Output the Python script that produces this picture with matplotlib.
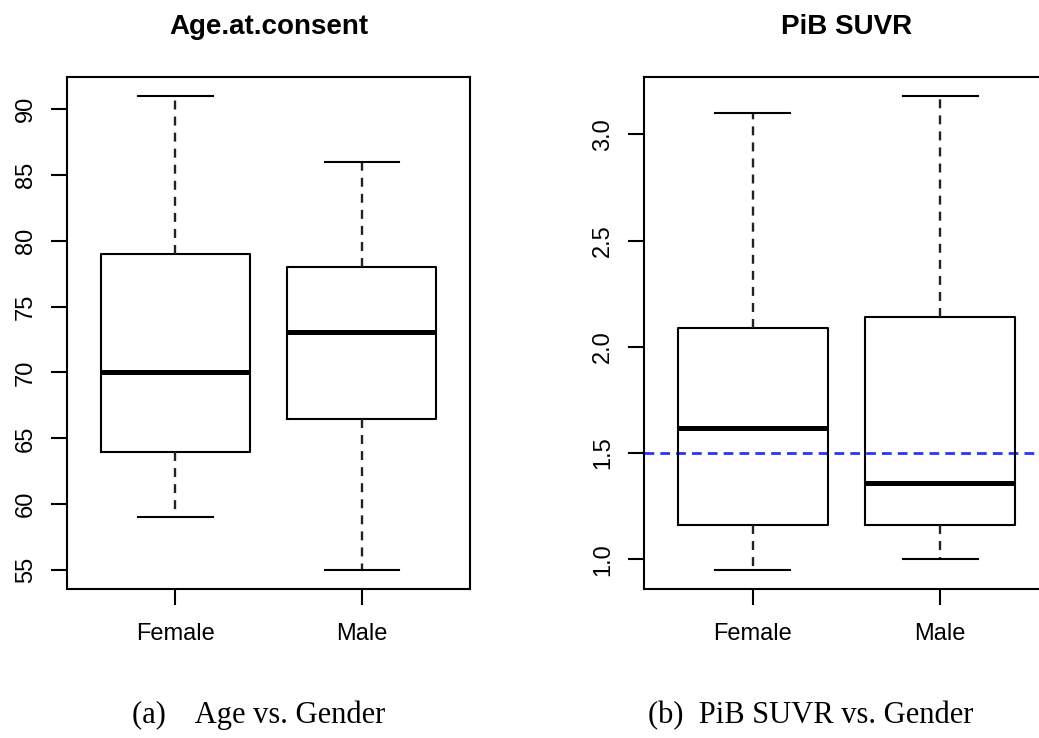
import matplotlib
matplotlib.use("Agg")
import matplotlib.pyplot as plt

plt.rcParams['font.family'] = ['Liberation Sans', 'DejaVu Sans']

groups = ["Female", "Male"]

# Age.at.consent box stats
age_lo = [59, 55]
age_q1 = [64, 66.5]
age_med = [70, 73.1]
age_q3 = [79, 78]
age_hi = [91, 86]
age_ticks = [55, 60, 65, 70, 75, 80, 85, 90]

# PiB SUVR box stats
pib_lo = [0.95, 1.0]
pib_q1 = [1.16, 1.16]
pib_med = [1.62, 1.36]
pib_q3 = [2.09, 2.14]
pib_hi = [3.10, 3.18]
pib_ticks = [1.0, 1.5, 2.0, 2.5, 3.0]
pib_cut = 1.5


def make_stats(lo, q1, med, q3, hi):
    out = []
    for i in range(len(groups)):
        out.append({"whislo": lo[i], "q1": q1[i], "med": med[i],
                    "q3": q3[i], "whishi": hi[i], "fliers": [],
                    "label": groups[i]})
    return out


def rbox(ax, stats, ticks, fmt, title):
    lw = 1.5
    ax.bxp(stats, positions=[1, 2], widths=0.8, showfliers=False,
           boxprops=dict(color="black", linewidth=lw),
           medianprops=dict(color="black", linewidth=3.6, solid_capstyle="butt"),
           whiskerprops=dict(color="#222222", linewidth=1.7, linestyle=(0, (3.8, 3.0))),
           capprops=dict(color="black", linewidth=lw),
           capwidths=0.4)
    lo = min(s["whislo"] for s in stats)
    hi = max(s["whishi"] for s in stats)
    r = (hi - lo) * 0.04
    ax.set_ylim(lo - r, hi + r)
    ax.set_xlim(0.42, 2.58)
    ax.set_xticks([1, 2])
    ax.set_xticklabels(groups)
    ax.set_yticks(ticks)
    ax.set_yticklabels([fmt % t for t in ticks], rotation=90, va="center")
    for sp in ax.spines.values():
        sp.set_linewidth(1.5)
    ax.tick_params(axis="both", length=11.5, width=1.5, labelsize=17, colors="black")
    ax.tick_params(axis="y", pad=10)
    ax.tick_params(axis="x", pad=13)
    ax.set_title(title, fontsize=20, fontweight="bold", pad=31)


fig = plt.figure(figsize=(10.39, 7.38), dpi=100)
ax1 = fig.add_axes([0.0645, 0.2019, 0.3879, 0.6938])
ax2 = fig.add_axes([0.6198, 0.2019, 0.3898, 0.6938])

rbox(ax1, make_stats(age_lo, age_q1, age_med, age_q3, age_hi), age_ticks, "%d", "Age.at.consent")
rbox(ax2, make_stats(pib_lo, pib_q1, pib_med, pib_q3, pib_hi), pib_ticks, "%.1f", "PiB SUVR")
ax2.axhline(pib_cut, color="#3030ff", linewidth=2, linestyle=(0, (3.5, 2.2)), zorder=1)

fig.text(0.249, 0.031, "(a)    Age vs. Gender", family="Liberation Serif",
         fontsize=22, ha="center", va="center")
fig.text(0.7806, 0.031, "(b)  PiB SUVR vs. Gender", family="Liberation Serif",
         fontsize=22, ha="center", va="center")

fig.savefig("out.png", dpi=100)
